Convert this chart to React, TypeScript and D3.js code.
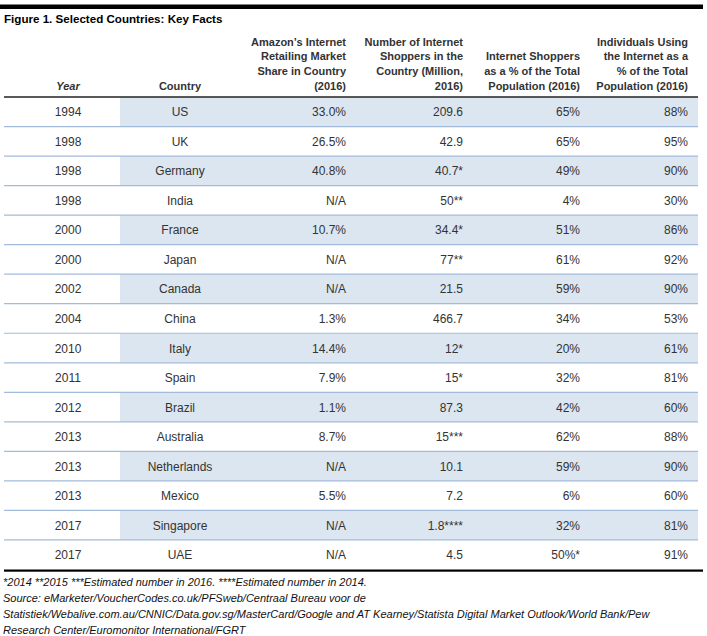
import React from "react";
import * as d3 from "d3";

const title = "Figure 1. Selected Countries: Key Facts";
const headers: string[][] = [
  ["Year"],
  ["Country"],
  ["Amazon\u2019s Internet", "Retailing Market", "Share in Country", "(2016)"],
  ["Number of Internet", "Shoppers in the", "Country (Million,", "2016)"],
  ["Internet Shoppers", "as a % of the Total", "Population (2016)"],
  ["Individuals Using", "the Internet as a", "% of the Total", "Population (2016)"],
];
const years = ["1994", "1998", "1998", "1998", "2000", "2000", "2002", "2004", "2010", "2011", "2012", "2013", "2013", "2013", "2017", "2017"];
const countries = ["US", "UK", "Germany", "India", "France", "Japan", "Canada", "China", "Italy", "Spain", "Brazil", "Australia", "Netherlands", "Mexico", "Singapore", "UAE"];
const amazonShare = ["33.0%", "26.5%", "40.8%", "N/A", "10.7%", "N/A", "N/A", "1.3%", "14.4%", "7.9%", "1.1%", "8.7%", "N/A", "5.5%", "N/A", "N/A"];
const shoppers = ["209.6", "42.9", "40.7*", "50**", "34.4*", "77**", "21.5", "466.7", "12*", "15*", "87.3", "15***", "10.1", "7.2", "1.8****", "4.5"];
const shopperPct = ["65%", "65%", "49%", "4%", "51%", "61%", "59%", "34%", "20%", "32%", "42%", "62%", "59%", "6%", "32%", "50%*"];
const internetPct = ["88%", "95%", "90%", "30%", "86%", "92%", "90%", "53%", "61%", "81%", "60%", "88%", "90%", "60%", "81%", "91%"];
const footnotes = [
  "*2014 **2015 ***Estimated number in 2016. ****Estimated number in 2014.",
  "Source: eMarketer/VoucherCodes.co.uk/PFSweb/Centraal Bureau voor de",
  "Statistiek/Webalive.com.au/CNNIC/Data.gov.sg/MasterCard/Google and AT Kearney/Statista Digital Market Outlook/World Bank/Pew",
  "Research Center/Euromonitor International/FGRT",
];

const W = 707;
const H = 636;
const FONT = "'Liberation Sans', Arial, sans-serif";
const TEXT = "#333333";

export default function App() {
  const columns = [years, countries, amazonShare, shoppers, shopperPct, internetPct];
  const rowIdx = d3.range(countries.length);
  const y = d3.scaleBand<number>().domain(rowIdx).range([97, 569.5]);
  const colX: [number, "middle" | "end"][] = [
    [68, "middle"],
    [180, "middle"],
    [346, "end"],
    [463, "end"],
    [580, "end"],
    [688, "end"],
  ];
  const lineY = d3.scaleLinear().domain([0, 3]).range([41.5, 86]);
  const bw = y.bandwidth();

  return (
    <svg width={W} height={H} style={{ position: "absolute", left: 0, top: 0, background: "#fff" }}>
      <rect x={0} y={0} width={W} height={H} fill="#fff" />
      <rect x={0} y={4.5} width={703} height={4.5} fill="#000" />
      <text x={4} y={23} fontFamily={FONT} fontWeight="bold" fontSize={11.6} fill="#000">
        {title}
      </text>
      {headers.map((lines, ci) => {
        const n = lines.length;
        return lines.map((ln, li) => (
          <text
            key={ci + "-" + li}
            x={colX[ci][0]}
            y={lineY(3 - (n - 1 - li)) + 4}
            textAnchor={colX[ci][1]}
            fontFamily={FONT}
            fontWeight="bold"
            fontStyle={ci === 0 ? "italic" : "normal"}
            fontSize={11}
            fill={TEXT}
          >
            {ln}
          </text>
        ));
      })}
      {rowIdx.map((i) =>
        i % 2 === 0 ? (
          <rect key={"bg" + i} x={120} y={y(i)!} width={578} height={bw} fill="#dce6f1" />
        ) : null
      )}
      {rowIdx.slice(1).map((i) => (
        <line key={"sep" + i} x1={4} x2={698} y1={y(i)!} y2={y(i)!} stroke="#a3bbdb" strokeWidth={1.2} />
      ))}
      <line x1={4} x2={698} y1={97} y2={97} stroke="#222" strokeWidth={1.3} />
      <rect x={4} y={569.5} width={699} height={2.2} fill="#000" />
      {columns.map((col, ci) =>
        col.map((v, i) => (
          <text
            key={"c" + ci + "-" + i}
            x={colX[ci][0]}
            y={y(i)! + bw / 2 + 4.5}
            textAnchor={colX[ci][1]}
            fontFamily={FONT}
            fontSize={12}
            fill={TEXT}
          >
            {v}
          </text>
        ))
      )}
      {footnotes.map((f, i) => (
        <text
          key={"f" + i}
          x={3}
          y={586 + i * 16}
          fontFamily={FONT}
          fontStyle="italic"
          fontSize={11}
          fill="#111"
        >
          {f}
        </text>
      ))}
    </svg>
  );
}
